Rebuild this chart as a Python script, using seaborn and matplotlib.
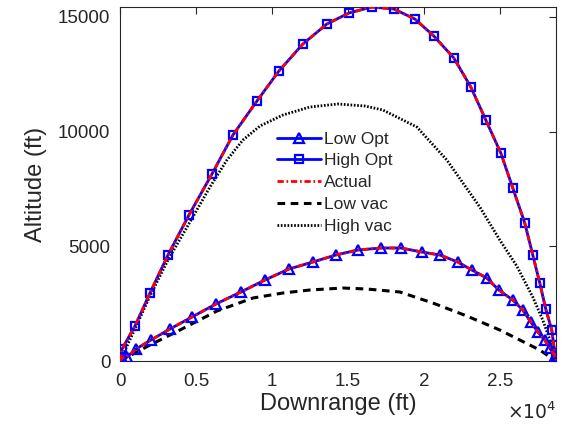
import numpy as np
import pandas as pd
import matplotlib
matplotlib.use("Agg")
import matplotlib.pyplot as plt
import seaborn as sns

# ---- data (ft) ----
high_opt_x = [0, 132, 987, 1974, 3158, 4539, 6053, 7434, 9013, 10461, 12039, 13618, 15066,
              16579, 18026, 19408, 20658, 21974, 23092, 24079, 25066, 25855, 26645, 27171,
              27632, 28026, 28421, 28553, 28684]
high_opt_y = [0, 523, 1526, 2964, 4621, 6364, 8151, 9851, 11333, 12641, 13818, 14690, 15169,
              15431, 15344, 14908, 14167, 13208, 11944, 10505, 9067, 7541, 6015, 4620,
              3400, 2267, 1351, 697, 174]

low_opt_x = [0, 132, 461, 1053, 2039, 3289, 4737, 6316, 7961, 9539, 11118, 12697, 14211, 15658,
             17171, 18487, 19868, 21053, 22237, 23158, 24145, 24934, 25855, 26513, 27039,
             27500, 27961, 28289, 28618, 28750]
low_opt_y = [0, 131, 174, 523, 915, 1395, 1918, 2485, 3008, 3531, 4010, 4315, 4621, 4838,
             4926, 4926, 4751, 4621, 4315, 3967, 3618, 3095, 2659, 2223, 1700, 1264, 915,
             567, 218, 0]

low_vac_x = [0, 1974, 3947, 6382, 8750, 10724, 12500, 14671, 16250, 18421, 20592, 22829,
             25000, 26316, 27632, 28684]
low_vac_y = [0, 697, 1351, 2180, 2746, 2964, 3095, 3182, 3138, 3008, 2528, 1962, 1351,
             915, 479, 0]

high_vac_x = [0, 987, 1974, 3158, 4605, 5921, 7039, 8092, 9211, 10724, 12500, 14342, 16118,
              17303, 19539, 21513, 23684, 25000, 26118, 27171, 27829, 28487, 28684]
high_vac_y = [0, 1395, 2833, 4403, 6059, 7584, 8761, 9633, 10243, 10723, 11072, 11203, 11115,
              10941, 10200, 8761, 6713, 5274, 4141, 2790, 1787, 567, 0]

x_ticks = [0, 5000, 10000, 15000, 20000, 25000]
x_tick_labels = ["0", "0.5", "1", "1.5", "2", "2.5"]
y_ticks = [0, 5000, 10000, 15000]
y_tick_labels = ["0", "5000", "10000", "15000"]

sns.set_style("white")
plt.rcParams["font.family"] = ["Liberation Sans", "DejaVu Sans"]
plt.rcParams["lines.scale_dashes"] = False

fig = plt.figure(figsize=(5.68, 4.34), dpi=100)
ax = fig.add_axes([120 / 568, 1 - 361 / 434, 436 / 568, 354 / 434])

BLUE = (0, 0, 1)
RED = (1, 0, 0)

def df(x, y):
    return pd.DataFrame({"x": x, "y": y})

sns.lineplot(data=df(low_opt_x, low_opt_y), x="x", y="y", ax=ax, sort=False, estimator=None,
             color=BLUE, lw=2, marker="^", markersize=6.5, markerfacecolor="none",
             markeredgecolor=BLUE, markeredgewidth=1.6, label="Low Opt", zorder=3)
sns.lineplot(data=df(high_opt_x, high_opt_y), x="x", y="y", ax=ax, sort=False, estimator=None,
             color=BLUE, lw=2, marker="s", markersize=5.5, markerfacecolor="none",
             markeredgecolor=BLUE, markeredgewidth=1.6, label="High Opt", zorder=3)
sns.lineplot(data=df(low_opt_x, low_opt_y), x="x", y="y", ax=ax, sort=False, estimator=None,
             color=RED, lw=2, linestyle=(0, (4.5, 2, 1.2, 2)), label="Actual", zorder=4)
sns.lineplot(data=df(high_opt_x, high_opt_y), x="x", y="y", ax=ax, sort=False, estimator=None,
             color=RED, lw=2, linestyle=(0, (4.5, 2, 1.2, 2)), zorder=4)
sns.lineplot(data=df(low_vac_x, low_vac_y), x="x", y="y", ax=ax, sort=False, estimator=None,
             color="black", lw=2.2, linestyle=(0, (5.5, 4)), label="Low vac", zorder=2)
sns.lineplot(data=df(high_vac_x, high_vac_y), x="x", y="y", ax=ax, sort=False, estimator=None,
             color="black", lw=2, linestyle=(0, (1.2, 1.2)), label="High vac", zorder=2)

ax.set_xlim(0, 28700)
ax.set_ylim(0, 15431)
ax.set_xticks(x_ticks)
ax.set_xticklabels(x_tick_labels)
ax.set_yticks(y_ticks)
ax.set_yticklabels(y_tick_labels)

tc = (0.15, 0.15, 0.15)
for s in ax.spines.values():
    s.set_visible(True)
    s.set_color(tc)
    s.set_linewidth(0.8)
ax.tick_params(direction="in", length=5, width=0.8, colors=tc, labelsize=13.5,
               top=True, right=True, labelcolor=tc)
ax.tick_params(axis="x", pad=9)
ax.tick_params(axis="y", pad=7)
ax.set_xlabel("Downrange (ft)", fontsize=17, color=tc, labelpad=2)
ax.set_ylabel("Altitude (ft)", fontsize=17, color=tc, labelpad=8)
ax.text(1.0, -0.115, r"$\times10^{4}$", transform=ax.transAxes, ha="right", va="top",
        fontsize=13.5, color=tc)

leg = ax.legend(loc="upper left", bbox_to_anchor=(0.345, 0.668), frameon=False, fontsize=12.5,
                handlelength=2.5, handletextpad=0.2, labelspacing=0.38, borderaxespad=0)
for t in leg.get_texts():
    t.set_color(tc)

fig.savefig("out.png", dpi=100)
